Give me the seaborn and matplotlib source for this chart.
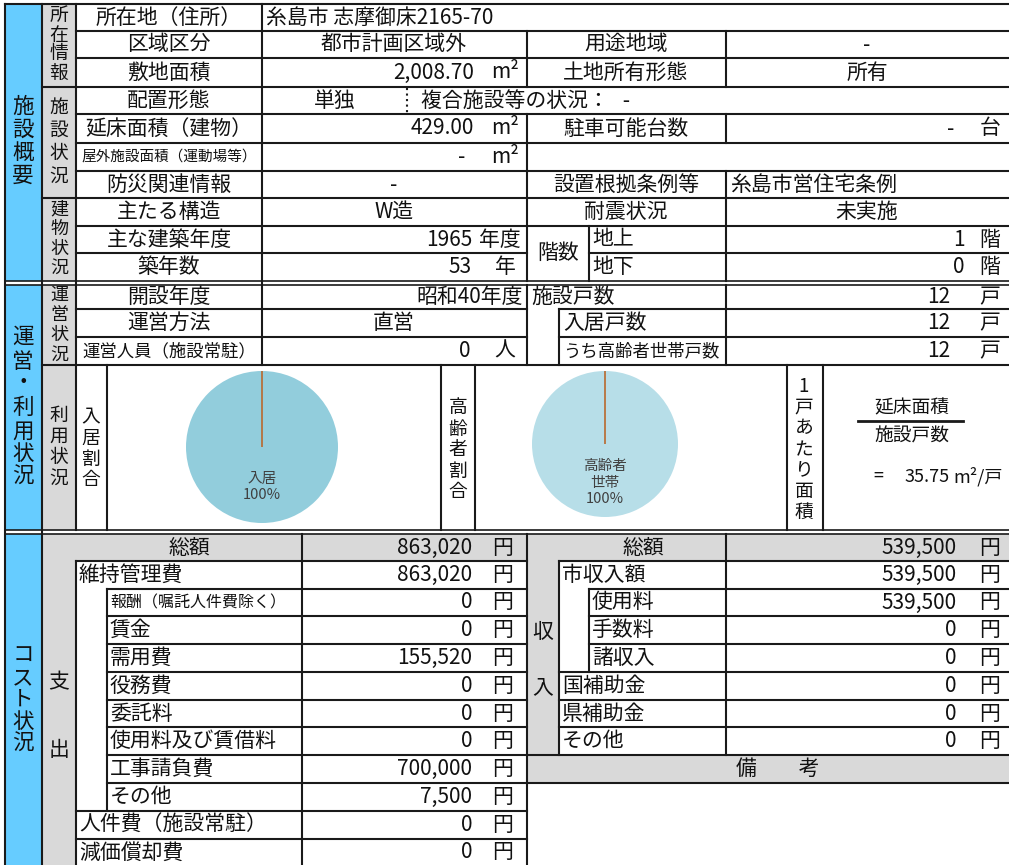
import matplotlib
matplotlib.use("Agg")
import matplotlib.pyplot as plt
from matplotlib.patches import Rectangle
import seaborn as sns

# ===============================
# data
# ===============================
address = "糸島市 志摩御床2165-70"
zone = "都市計画区域外"
use_district = "-"
site_area = 2008.70
land_owner = "所有"
placement = "単独"
complex_status = "-"
floor_area = 429.00
parking = "-"
outdoor_area = "-"
disaster_info = "-"
ordinance = "糸島市営住宅条例"
structure = "W造"
seismic = "未実施"
built_year = 1965
building_age = 53
floors_above = 1
floors_below = 0

opened_year = "昭和40年度"
operation = "直営"
staff = 0
unit_labels = ["施設戸数", "入居戸数", "うち高齢者世帯戸数"]
unit_counts = [12, 12, 12]

occupancy_labels = ["入居", "空室"]
occupancy_values = [12, 0]
elderly_labels = ["高齢者\n世帯", "その他"]
elderly_values = [12, 0]
area_per_unit = 35.75

expense_total = 863020
maintenance_total = 863020
expense_items = ["報酬（嘱託人件費除く）", "賃金", "需用費", "役務費", "委託料",
                 "使用料及び賃借料", "工事請負費", "その他"]
expense_values = [0, 0, 155520, 0, 0, 0, 700000, 7500]
personnel_cost = 0
depreciation = 0

revenue_total = 539500
city_revenue = 539500
fee_items = ["使用料", "手数料", "諸収入"]
fee_values = [539500, 0, 0]
subsidy_items = ["国補助金", "県補助金", "その他"]
subsidy_values = [0, 0, 0]

# ===============================
# layout (pixels)
# ===============================
W, H = 1009, 865
BLUE = "#66CCFF"
GRAY = "#D9D9D9"
PIE1 = "#92CDDC"
PIE2 = "#B7DEE8"
EDGE = "#B9692D"
INK = "#111111"
LW = 1.5
FS = 15

sns.set_theme(style="white")
plt.rcParams["font.family"] = ["Noto Sans CJK JP", "DejaVu Sans"]

fig = plt.figure(figsize=(W / 100, H / 100), dpi=100)
ax = fig.add_axes([0, 0, 1, 1])
ax.set_xlim(0, W)
ax.set_ylim(H, 0)
ax.axis("off")


def rect(x0, y0, x1, y1, c):
    ax.add_patch(Rectangle((x0, y0), x1 - x0, y1 - y0, fc=c, ec="none", zorder=0))


def hl(y, x0, x1, lw=LW):
    ax.plot([x0, x1], [y, y], color="k", lw=lw, solid_capstyle="projecting", zorder=3)


def vl(x, y0, y1, lw=LW, ls="-"):
    ax.plot([x, x], [y0, y1], color="k", lw=lw, ls=ls, solid_capstyle="projecting", zorder=3)


def txt(x, y, s, ha="center", size=FS, color=INK):
    ax.text(x, y, s, ha=ha, va="center", fontsize=size, color=color, zorder=4)


def vtxt(x, ys, s, size=FS):
    for y, ch in zip(ys, s):
        txt(x, y, ch, size=size)


def money(v):
    return f"{v:,}"


# ---------- background fills ----------
rect(5, 4, 42, 281, BLUE)
rect(5, 285, 42, 530, BLUE)
rect(5, 534, 42, H, BLUE)
rect(42, 4, 76, 281, GRAY)
rect(42, 285, 76, 530, GRAY)
rect(42, 534, 76, H, GRAY)
rect(76, 534, 527, 561, GRAY)
rect(527, 534, 559, 755, GRAY)
rect(559, 534, W, 561, GRAY)
rect(527, 755, W, 783, GRAY)

# ===============================
# section 1 : 施設概要
# ===============================
s1 = [4, 31, 58, 87, 114, 143, 171, 198, 226, 253, 281]
c1 = [(a + b) / 2 for a, b in zip(s1[:-1], s1[1:])]

hl(4, 5, W)
for y in s1[1:-1]:
    hl(y, 76, W if y != 253 else 527)
hl(253, 589, W)
hl(87, 42, 76)
hl(198, 42, 76)
hl(281, 5, W, lw=1.2)
hl(285, 5, W, lw=1.2)

vl(5, 4, H)
vl(42, 4, H)
vl(76, 4, 530)
vl(262, 4, 365)
vl(527, 31, 87)
vl(527, 114, 281)
vl(726, 31, 87)
vl(726, 114, 143)
vl(726, 171, 281)
vl(589, 226, 281)
vl(407, 88, 113, lw=1.5, ls=":")

vtxt(23, [107, 130, 153, 176], "施設概要", size=15.5)
vtxt(59, [15, 35, 54, 73], "所在情報", size=13.5)
vtxt(59, [107, 130, 153, 176], "施設状況", size=13.5)
vtxt(59, [209, 229, 249, 268], "建物状況", size=13)

labels1 = ["所在地（住所）", "区域区分", "敷地面積", "配置形態", "延床面積（建物）",
           "屋外施設面積（運動場等）", "防災関連情報", "主たる構造", "主な建築年度", "築年数"]
for i, s in enumerate(labels1):
    txt(169, c1[i], s, size=10.5 if i == 5 else FS)

txt(266, c1[0], address, ha="left")
txt(394, c1[1], zone)
txt(626, c1[1], "用途地域")
txt(867, c1[1], use_district)
txt(474, c1[2], f"{site_area:,.2f}", ha="right")
txt(505, c1[2], "m²")
txt(626, c1[2], "土地所有形態")
txt(867, c1[2], land_owner)
txt(335, c1[3], placement)
txt(421, c1[3], f"複合施設等の状況：   {complex_status}", ha="left")
txt(474, c1[4], f"{floor_area:.2f}", ha="right")
txt(505, c1[4], "m²")
txt(626, c1[4], "駐車可能台数")
txt(951, c1[4], parking)
txt(990, c1[4], "台")
txt(462, c1[5], outdoor_area)
txt(505, c1[5], "m²")
txt(394, c1[6], disaster_info)
txt(626, c1[6], "設置根拠条例等")
txt(730, c1[6], ordinance, ha="left")
txt(394, c1[7], structure)
txt(626, c1[7], "耐震状況")
txt(867, c1[7], seismic)
txt(472, c1[8], str(built_year), ha="right")
txt(500, c1[8], "年度")
txt(472, c1[9], str(building_age), ha="right")
txt(505, c1[9], "年")
txt(558, 253, "階数")
txt(592, c1[8], "地上", ha="left")
txt(592, c1[9], "地下", ha="left")
txt(965, c1[8], str(floors_above), ha="right")
txt(990, c1[8], "階")
txt(965, c1[9], str(floors_below), ha="right")
txt(990, c1[9], "階")

# ===============================
# section 2 : 運営・利用状況
# ===============================
s2 = [285, 309, 337, 365]
c2 = [(a + b) / 2 for a, b in zip(s2[:-1], s2[1:])]

hl(309, 76, 527)
hl(309, 559, W)
hl(337, 76, 527)
hl(337, 559, W)
hl(365, 42, W)
vl(527, 285, 365)
vl(559, 309, 365)
vl(726, 285, 365)
for x in [107, 441, 475, 787, 823]:
    vl(x, 365, 530)
hl(530, 5, W, lw=1.2)
hl(534, 5, W, lw=1.2)

vtxt(23, [337, 362, 383, 408, 432, 454, 477], "運営・利用状況", size=15.5)
vtxt(59, [295, 315, 335, 355], "運営状況", size=13)
vtxt(59, [415, 436, 457, 478], "利用状況", size=13.5)
vtxt(91, [417, 438, 459, 480], "入居割合", size=13.5)
vtxt(458, [408, 429, 450, 471, 492], "高齢者割合", size=13.5)
vtxt(804, [387, 407, 428, 450, 470, 492, 512], "1戸あたり面積", size=13.5)

txt(169, c2[0], "開設年度")
txt(169, c2[1], "運営方法")
txt(169, c2[2], "運営人員（施設常駐）", size=12.5)
txt(523, c2[0], opened_year, ha="right")
txt(394, c2[1], operation)
txt(470, c2[2], str(staff), ha="right")
txt(505, c2[2], "人")
txt(531, c2[0], unit_labels[0], ha="left")
txt(563, c2[1], unit_labels[1], ha="left")
txt(563, c2[2], unit_labels[2], ha="left", size=12.5)
for yc, n in zip(c2, unit_counts):
    txt(950, yc, str(n), ha="right")
    txt(990, yc, "戸")

# formula
txt(912, 408, "延床面積", size=13.5)
hl(421, 858, 963, lw=2)
txt(912, 436, "施設戸数", size=13.5)
txt(878, 477, "=", size=13)
txt(950, 477, f"{area_per_unit:.2f}", ha="right", size=13)
txt(953, 477, "m²/戸", ha="left", size=13)


def pie(cx, cy, r, labels, values, color):
    pax = fig.add_axes([(cx - r) / W, 1 - (cy + r) / H, 2 * r / W, 2 * r / H])
    pct = 100 * values[0] / sum(values)
    wedges, texts = pax.pie(values, colors=[color, EDGE], startangle=90,
                            counterclock=False,
                            labels=[f"{labels[0]}\n{pct:.0f}%", ""],
                            labeldistance=0.53,
                            wedgeprops=dict(linewidth=0),
                            textprops=dict(fontsize=10.5, color="#404040"))
    wedges[1].set_edgecolor(EDGE)
    wedges[1].set_linewidth(1.2)
    texts[0].set_ha("center")
    texts[0].set_multialignment("center")
    texts[0].set_linespacing(1.2)
    pax.set_xlim(-1, 1)
    pax.set_ylim(-1, 1)
    pax.axis("off")


pie(262, 447, 76, occupancy_labels, occupancy_values, PIE1)
pie(605, 444, 73, elderly_labels, elderly_values, PIE2)

# ===============================
# section 3 : コスト状況
# ===============================
s3 = [534, 561, 589, 616, 644, 672, 700, 727, 755, 783, 811, 839, 866]
c3 = [(a + b) / 2 for a, b in zip(s3[:-1], s3[1:])]

vl(76, 561, H)
vl(107, 589, 811)
vl(302, 534, H)
vl(527, 534, H)
vl(559, 561, 755)
vl(589, 589, 672)
vl(726, 534, 755)
hl(561, 76, 527)
for y in s3[2:10]:
    hl(y, 107, 527)
hl(811, 76, 527)
hl(839, 76, 527)
hl(561, 559, W)
for y in [589, 616, 644]:
    hl(y, 589, W)
for y in [672, 700, 727]:
    hl(y, 559, W)
hl(755, 527, W)
hl(783, 527, W)

vtxt(23, [656, 678, 700, 722, 744], "コスト状況", size=15.5)
txt(59, 682, "支")
txt(59, 750, "出")
txt(543, 632, "収")
txt(543, 687, "入")

# expenses
txt(189, c3[0], "総額")
txt(472, c3[0], money(expense_total), ha="right")
txt(79, c3[1], "維持管理費", ha="left")
txt(472, c3[1], money(maintenance_total), ha="right")
for i, (s, v) in enumerate(zip(expense_items, expense_values)):
    txt(110, c3[2 + i], s, ha="left", size=11.5 if i == 0 else FS)
    txt(472, c3[2 + i], money(v), ha="right")
txt(79, c3[10], "人件費（施設常駐）", ha="left")
txt(472, c3[10], money(personnel_cost), ha="right")
txt(79, c3[11], "減価償却費", ha="left")
txt(472, c3[11], money(depreciation), ha="right")
for yc in c3:
    txt(503, yc, "円")

# revenues
txt(643, c3[0], "総額")
txt(957, c3[0], money(revenue_total), ha="right")
txt(562, c3[1], "市収入額", ha="left")
txt(957, c3[1], money(city_revenue), ha="right")
for i, (s, v) in enumerate(zip(fee_items, fee_values)):
    txt(592, c3[2 + i], s, ha="left")
    txt(957, c3[2 + i], money(v), ha="right")
for i, (s, v) in enumerate(zip(subsidy_items, subsidy_values)):
    txt(562, c3[5 + i], s, ha="left")
    txt(957, c3[5 + i], money(v), ha="right")
for yc in c3[:8]:
    txt(990, yc, "円")
txt(778, c3[8], "備　　考")

fig.savefig("out.png", dpi=100)
